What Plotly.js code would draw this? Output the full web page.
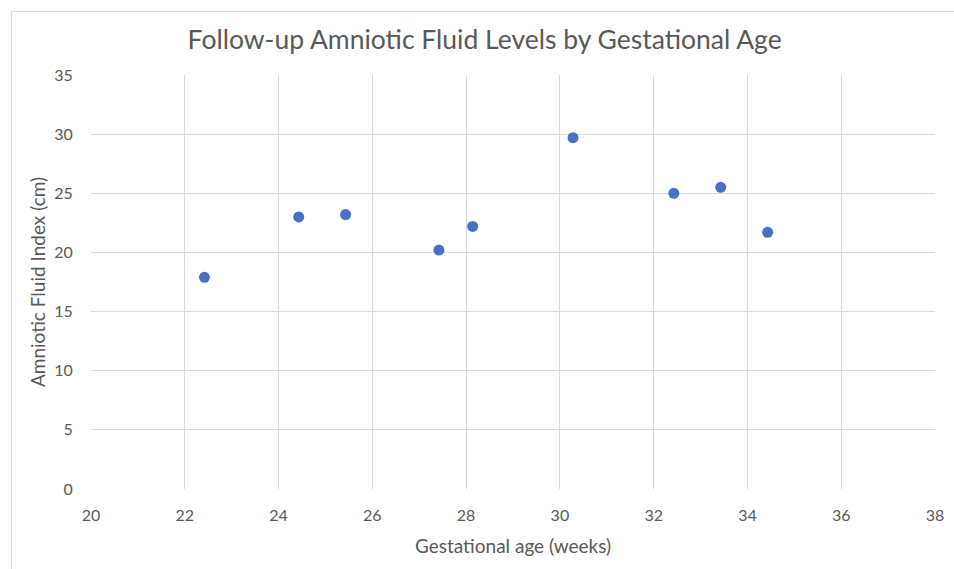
<!DOCTYPE html>
<html>
<head>
<meta charset="utf-8">
<script src="https://cdn.plot.ly/plotly-3.0.1.min.js"></script>
<style>
  html, body { margin: 0; padding: 0; background: #ffffff; overflow: hidden; }
  #chart { position: absolute; left: 0; top: 0; width: 954px; height: 569px; }
  #frame { position: absolute; left: 11px; top: 11px; width: 1000px; height: 700px;
           border-left: 1px solid #d9d9d9; border-top: 1px solid #d9d9d9; pointer-events: none; }
</style>
</head>
<body>
<div id="chart"></div>
<div id="frame"></div>
<script>
const gestationalWeeks = [22.42, 24.43, 25.43, 27.42, 28.14, 30.28, 32.43, 33.43, 34.43];
const fluidIndexCm     = [17.9, 23.0, 23.2, 20.2, 22.2, 29.7, 25.0, 25.5, 21.7];
const xTickValues = [20, 22, 24, 26, 28, 30, 32, 34, 36, 38];
const yTickValues = [0, 5, 10, 15, 20, 25, 30, 35];

const font = "Lato, 'Open Sans', sans-serif";
const grey = "#595959";

Plotly.newPlot("chart", [{
  type: "scatter",
  mode: "markers",
  x: gestationalWeeks,
  y: fluidIndexCm,
  marker: { color: "#4472C4", size: 11 },
  hoverinfo: "x+y"
}], {
  width: 954, height: 569,
  paper_bgcolor: "rgba(0,0,0,0)",
  plot_bgcolor: "#ffffff",
  margin: { l: 91, r: 19, t: 75, b: 80 },
  showlegend: false,
  title: {
    text: "Follow-up Amniotic Fluid Levels by Gestational Age",
    font: { family: font, size: 26.5, color: grey },
    x: 0.508, xanchor: "center", y: 0.93, yanchor: "middle"
  },
  xaxis: {
    range: [20, 38], tickvals: xTickValues, ticktext: xTickValues.map(String),
    showgrid: true, gridcolor: "#d9d9d9", gridwidth: 1,
    zeroline: false, showline: false,
    ticks: "outside", ticklen: 12, tickcolor: "rgba(0,0,0,0)",
    tickfont: { family: font, size: 16, color: grey },
    title: { text: "Gestational age (weeks)", font: { family: font, size: 19, color: grey }, standoff: 16 },
    fixedrange: true
  },
  yaxis: {
    range: [0, 35], tickvals: yTickValues, ticktext: yTickValues.map(String),
    showgrid: true, gridcolor: "#d9d9d9", gridwidth: 1,
    zeroline: false, showline: false,
    ticks: "outside", ticklen: 14, tickcolor: "rgba(0,0,0,0)",
    tickfont: { family: font, size: 16, color: grey },
    title: { text: "Amniotic Fluid Index (cm)", font: { family: font, size: 19, color: grey }, standoff: 3 },
    fixedrange: true
  }
}, { displayModeBar: false, staticPlot: true });
</script>
</body>
</html>
